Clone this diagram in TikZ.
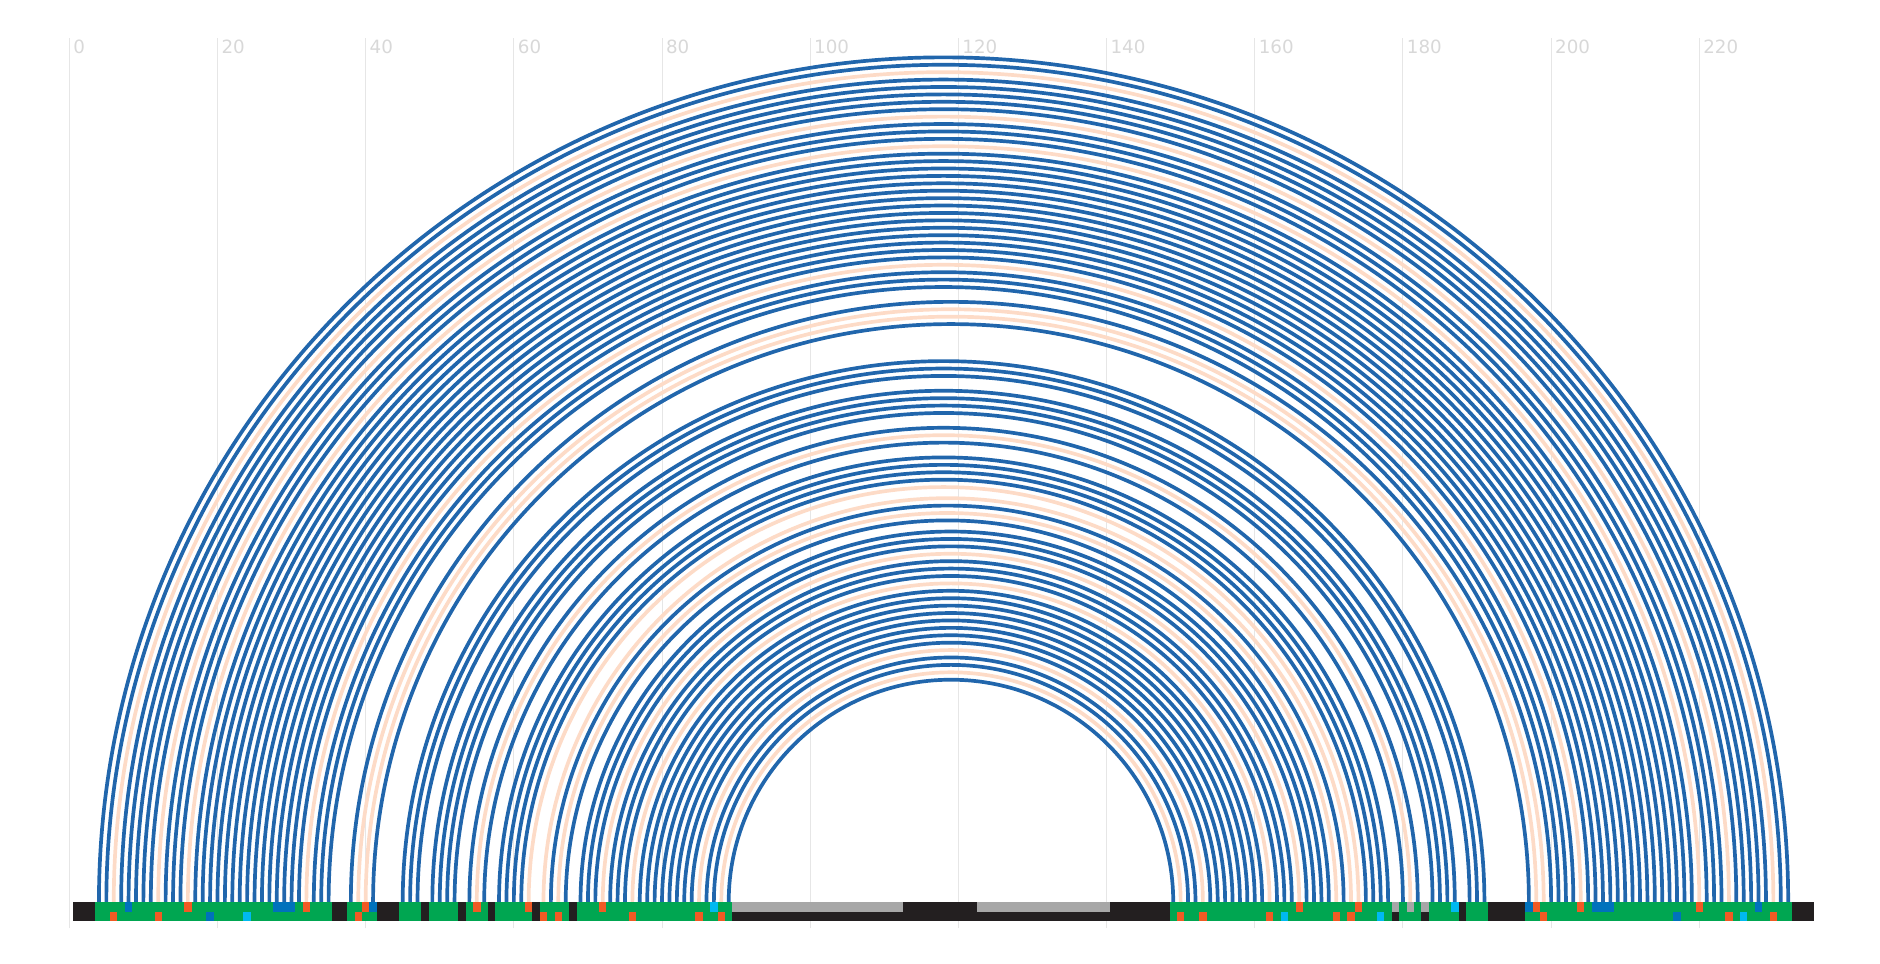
\documentclass[tikz,border=0pt]{standalone}
\usepackage{fontspec}
\newfontfamily\ticksfont{DejaVu Sans}

\definecolor{pairblue}{HTML}{2166AC}
\definecolor{pairpeach}{HTML}{FDDBC7}
\definecolor{cellgreen}{HTML}{00A651}
\definecolor{cellblack}{HTML}{231F20}
\definecolor{cellorange}{HTML}{F15A24}
\definecolor{cellblue}{HTML}{0072BC}
\definecolor{cellcyan}{HTML}{00B9F2}
\definecolor{cellgray}{HTML}{A7A7A7}
\definecolor{gridgray}{HTML}{E6E6E6}
\definecolor{ticktext}{HTML}{D8D8D8}

\begin{document}
\begin{tikzpicture}[
    x=0.07409cm, y=0.07409cm,
    gridline/.style={
        draw=gridgray,
        line width=0.3pt
    },
    ticklabel/.style={
        anchor=north west,
        inner sep=0pt,
        text=ticktext,
        font=\ticksfont\fontsize{5.2}{6}\selectfont
    },
    stemarc/.style={
        draw=pairblue,
        line width=1.05pt
    },
    mismatcharc/.style={
        draw=pairpeach,
        line width=1.05pt
    }
]

% Canvas
\useasboundingbox (-9.3535,-8.368) rectangle (244.392,121.744);

% ========== GRID AND TICKS ==========

\foreach \t in {0,20,...,220}{
    \draw[gridline] (\t,-3.55) -- (\t,116.6);
    \node[ticklabel] (tick\t) at (\t+0.45,116.5) {\t};
}

% ========== OUTER HELIX ==========

\foreach \i/\j in {4/232,5/231,7/229,8/228,9/227,10/226,11/225,13/223,14/222,15/221,
                   17/219,18/218,19/217,20/216,21/215,22/214,23/213,24/212,25/211,26/210,
                   27/209,28/208,29/207,30/206,31/205,33/203,34/202,35/201,38/200,41/197}
    \draw[stemarc] (\i,0) arc[start angle=180, end angle=0, radius={(\j-\i)/2}];

\foreach \i/\j in {6/230,12/224,16/220,32/204,39/199,40/198}
    \draw[mismatcharc] (\i,0) arc[start angle=180, end angle=0, radius={(\j-\i)/2}];

% ========== INNER HELIX ==========

\foreach \i/\j in {45/191,46/190,47/189,49/187,50/186,51/185,52/184,54/182,56/180,58/178,
                   59/177,60/176,61/175,65/172,67/170,69/169,70/168,71/167,73/165,74/164,
                   75/163,77/161,78/160,79/159,80/158,81/157,82/156,83/155,84/154,86/152,
                   87/151,89/149}
    \draw[stemarc] (\i,0) arc[start angle=180, end angle=0, radius={(\j-\i)/2}];

\foreach \i/\j in {55/181,62/174,64/173,66/171,72/166,76/162,85/153,88/150}
    \draw[mismatcharc] (\i,0) arc[start angle=180, end angle=0, radius={(\j-\i)/2}];

% ========== SEQUENCE TRACK ==========

% unpaired background
\fill[cellblack] (0.5,0) rectangle (235.5,-2.56);

% paired stretches
\foreach \a/\b in {4/35,38/41,45/47,49/52,54/56,58/62,64/67,69/89,
                   149/178,180/182,184/187,189/191,197/232}
    \fill[cellgreen] (\a-0.5,0) rectangle (\b+0.5,-2.56);

% loops, upper row
\foreach \a/\b in {90/112,123/140,179/179,181/181,183/183}
    \fill[cellgray] (\a-0.5,0) rectangle (\b+0.5,-1.3);

% marks, upper row
\foreach \p/\c in {8/cellblue,16/cellorange,28/cellblue,29/cellblue,30/cellblue,32/cellorange,
                   40/cellorange,41/cellblue,55/cellorange,62/cellorange,72/cellorange,87/cellcyan,
                   166/cellorange,174/cellorange,187/cellcyan,197/cellblue,198/cellorange,
                   204/cellorange,206/cellblue,207/cellblue,208/cellblue,220/cellorange,228/cellblue}
    \fill[\c] (\p-0.5,0) rectangle (\p+0.5,-1.3);

% marks, lower row
\foreach \p/\c in {6/cellorange,12/cellorange,19/cellblue,24/cellcyan,39/cellorange,64/cellorange,
                   66/cellorange,76/cellorange,85/cellorange,88/cellorange,150/cellorange,
                   153/cellorange,162/cellorange,164/cellcyan,171/cellorange,173/cellorange,
                   177/cellcyan,199/cellorange,217/cellblue,224/cellorange,226/cellcyan,230/cellorange}
    \fill[\c] (\p-0.5,-1.3) rectangle (\p+0.5,-2.56);

\end{tikzpicture}
\end{document}
